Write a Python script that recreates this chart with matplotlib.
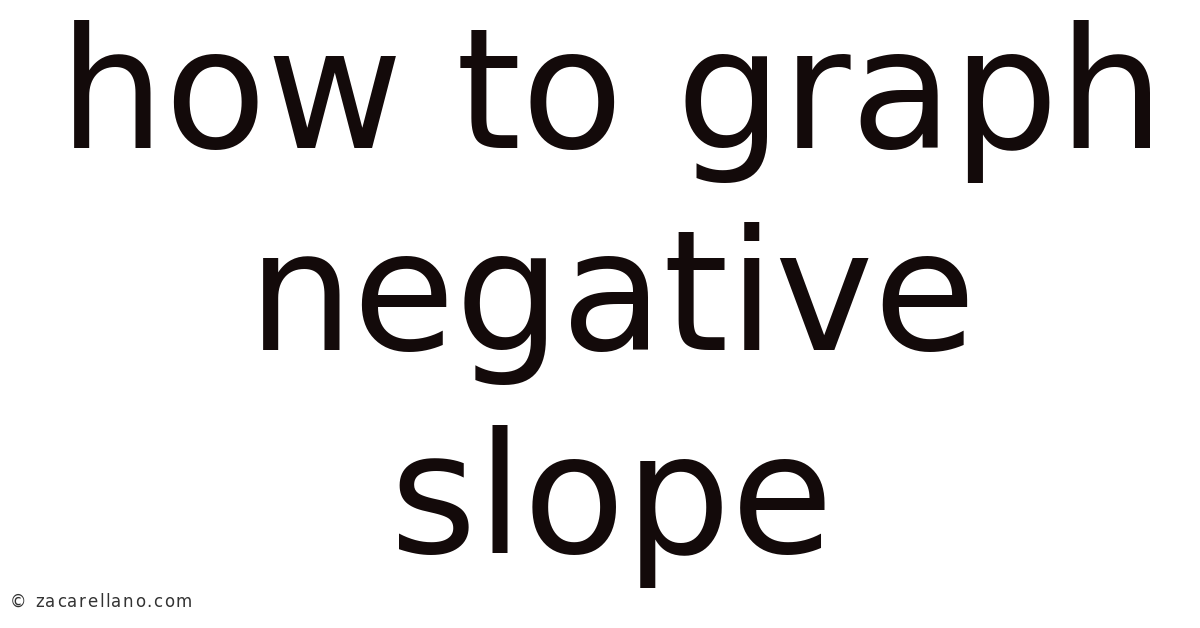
import matplotlib.pyplot as plt

# title lines and their baselines (pixels from top)
lines = ['how to graph', 'negative', 'slope']
baselines = [148, 350, 553]
watermark = '© zacarellano.com'

W, H = 1200, 628
fig = plt.figure(figsize=(W / 100, H / 100), dpi=100)
fig.patch.set_facecolor('white')

for txt, b in zip(lines, baselines):
    fig.text(612 / W, 1 - b / H, txt, ha='center', va='baseline',
             fontsize=120, color='#130a0a', family='DejaVu Sans')

# watermark with a bit of letter spacing
renderer = fig.canvas.get_renderer()
x = 10
for ch in watermark:
    t = fig.text(x / W, 1 - 607 / H, ch, ha='left', va='baseline',
                 fontsize=12, color='#333333', family='DejaVu Sans',
                 fontweight='medium')
    if ch == ' ':
        w = 12 * 0.318 * 100 / 72
    else:
        w = t.get_window_extent(renderer).width
    x += w + 1.5

fig.savefig('out.png', dpi=100, facecolor='white')
